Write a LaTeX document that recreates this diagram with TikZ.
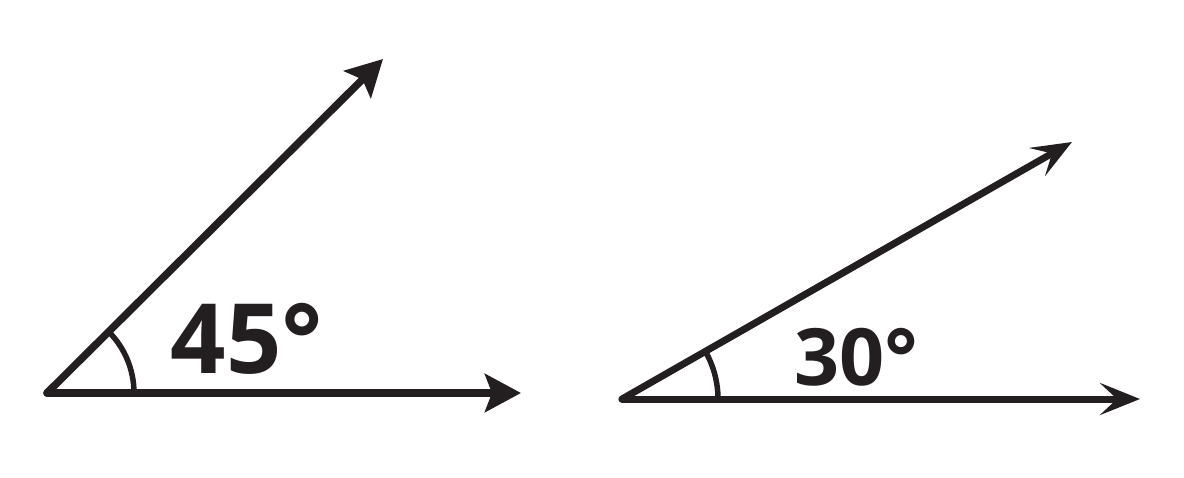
\documentclass[tikz,border=0pt]{standalone}
\usepackage{fontspec}
\setmainfont{Open Sans}
\usetikzlibrary{arrows.meta}
\definecolor{ink}{HTML}{231F20}
\tikzset{
  ray/.style={draw=ink, line width=7.5pt, line cap=round},
  bigray/.style={ray, -{Stealth[length=36pt,width=38pt,inset=7pt]}},
  smallray/.style={ray, line width=7pt, -{Stealth[length=40pt,width=32pt,inset=17pt]}},
  anglearc/.style={draw=ink, line width=5.5pt},
  deg/.style={text=ink, inner sep=0pt, anchor=base, font=\bfseries}
}
\begin{document}
\begin{tikzpicture}[x=1pt,y=1pt]
\useasboundingbox (0,0) rectangle (1184,-477);
% left angle
\coordinate (va) at (47,-393);
\coordinate (ha) at (521,-393);
\coordinate (da) at (383,-59);
\draw[bigray] (va) -- (ha);
\draw[bigray] (va) -- (da);
\draw[anglearc] ([xshift=87pt]va) arc[start angle=0,end angle=45,radius=87];
\node[deg, font=\bfseries\fontsize{97}{97}\selectfont] (la) at (247,-373) {45°};
% right angle
\coordinate (vb) at (622,-399);
\coordinate (hb) at (1140,-399);
\coordinate (db) at (1072,-142);
\draw[smallray] (vb) -- (hb);
\draw[smallray] (vb) -- (db);
\draw[anglearc] ([xshift=96pt]vb) arc[start angle=0,end angle=29.7,radius=96];
\node[deg, font=\bfseries\fontsize{79}{79}\selectfont] (lb) at (856,-385) {30°};
\end{tikzpicture}
\end{document}
